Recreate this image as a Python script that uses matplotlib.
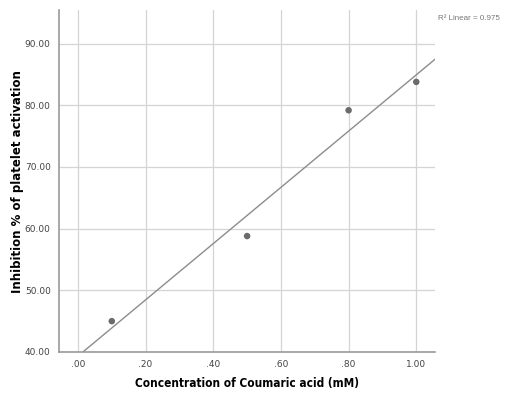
import numpy as np
import matplotlib
matplotlib.use("Agg")
import matplotlib.pyplot as plt

concentracion = [0.1, 0.5, 0.8, 1.0]
inhibicion = [45.0, 58.8, 79.2, 83.8]
x_ticks = [0.0, 0.2, 0.4, 0.6, 0.8, 1.0]
x_tick_labels = [".00", ".20", ".40", ".60", ".80", "1.00"]
y_ticks = [40, 50, 60, 70, 80, 90]
y_tick_labels = ["40.00", "50.00", "60.00", "70.00", "80.00", "90.00"]
r2_texto = "R\u00b2 Linear = 0.975"

x = np.array(concentracion)
y = np.array(inhibicion)
pendiente, intercepto = np.polyfit(x, y, 1)

fig = plt.figure(figsize=(5.07, 3.97), dpi=100)
ax = fig.add_axes([0.1164, 0.1134, 0.742, 0.862])

xlim = (-0.056, 1.056)
ax.set_xlim(*xlim)
ax.set_ylim(40, 95.5)

ax.grid(True, color="#d4d4d4", linewidth=0.9)
ax.set_axisbelow(True)

xs = np.array(xlim)
ax.plot(xs, pendiente * xs + intercepto, color="#8c8c8c", linewidth=1.0, zorder=2)
ax.scatter(x, y, s=22, color="#6b6b6b", zorder=3, edgecolors="none")

ax.set_xticks(x_ticks)
ax.set_xticklabels(x_tick_labels)
ax.set_yticks(y_ticks)
ax.set_yticklabels(y_tick_labels)
ax.tick_params(length=0, labelsize=6.5, labelcolor="#444444", pad=6)

for lado in ["top", "right"]:
    ax.spines[lado].set_visible(False)
for lado in ["left", "bottom"]:
    ax.spines[lado].set_color("#9a9a9a")
    ax.spines[lado].set_linewidth(1.2)

fig.text(247 / 507, 1 - 383 / 397, "Concentration of Coumaric acid (mM)", fontsize=8.5,
         fontweight="bold", fontstretch="condensed", ha="center", va="center")
fig.text(18 / 507, 1 - 182 / 397, "Inhibition % of platelet activation", fontsize=8.5,
         fontweight="bold", rotation=90, ha="center", va="center")

fig.text(438 / 507, 1 - 18 / 397, r2_texto, fontsize=5.8, color="#777777",
         ha="left", va="center", family="Liberation Sans")

plt.savefig("out.png", dpi=100)
plt.close()
